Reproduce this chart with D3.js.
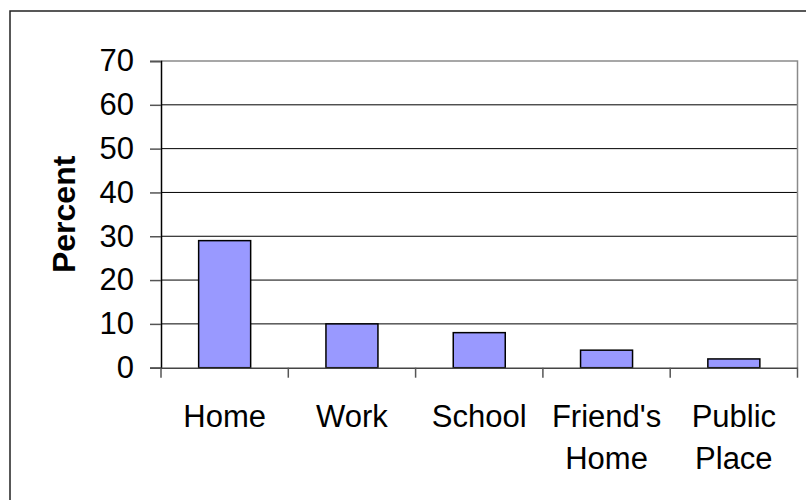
<!DOCTYPE html>
<html>
<head>
<meta charset="utf-8">
<script src="https://cdn.jsdelivr.net/npm/d3@7"></script>
<style>
  html, body { margin: 0; padding: 0; background: #fff; }
  svg { display: block; }
  text { font-family: "Liberation Sans", Arial, sans-serif; }
</style>
</head>
<body>
<svg id="chart" width="806" height="500"></svg>
<script>
const categories = [["Home"], ["Work"], ["School"], ["Friend's", "Home"], ["Public", "Place"]];
const values = [29, 10, 8, 4, 2];
const yTicks = [0, 10, 20, 30, 40, 50, 60, 70];
const yLabel = "Percent";

const svg = d3.select("#chart");
const W = 806, H = 500;
const plot = { left: 161, right: 797.5, top: 61, bottom: 367.7 };

// outer frame
svg.append("rect").attr("x", 10).attr("y", 11).attr("width", 810).attr("height", 520)
  .attr("fill", "none").attr("stroke", "#222").attr("stroke-width", 1.5);

const keys = categories.map(c => c.join(" "));
const x = d3.scaleBand().domain(keys).range([plot.left, plot.right]).paddingInner(0).paddingOuter(0);
const y = d3.scaleLinear().domain([0, 70]).range([plot.bottom, plot.top]);

// gridlines
svg.append("g").selectAll("line").data(yTicks.filter(t => t > 0 && t < 70)).join("line")
  .attr("x1", plot.left).attr("x2", plot.right)
  .attr("y1", d => y(d)).attr("y2", d => y(d))
  .attr("stroke", "#000").attr("stroke-width", 1);

// plot area border top/right
svg.append("path")
  .attr("d", `M${plot.left},${y(70)}H${plot.right}V${plot.bottom}`)
  .attr("fill", "none").attr("stroke", "#8a8a8a").attr("stroke-width", 1.5);

// bars
const barW = 52;
svg.append("g").selectAll("rect").data(values).join("rect")
  .attr("x", (d, i) => x(keys[i]) + (x.bandwidth() - barW) / 2)
  .attr("width", barW)
  .attr("y", d => y(d))
  .attr("height", d => y(0) - y(d))
  .attr("fill", "#9999FF").attr("stroke", "#000").attr("stroke-width", 1.5);

// y axis
const yAxis = d3.axisLeft(y).tickValues(yTicks).tickSize(11).tickPadding(16).tickFormat(d3.format("d"));
const gy = svg.append("g").attr("transform", `translate(${plot.left},0)`).call(yAxis);
gy.select(".domain").attr("stroke", "#000").attr("stroke-width", 1.5);
gy.selectAll(".tick line").attr("stroke", "#555").attr("stroke-width", 1.5);
gy.selectAll(".tick text").attr("font-size", 31).attr("fill", "#000")
  .attr("font-family", "'Liberation Sans', Arial, sans-serif");

// x axis
const xAxis = d3.axisBottom(x).tickSize(0).tickFormat("");
const gx = svg.append("g").attr("transform", `translate(0,${plot.bottom})`).call(xAxis);
gx.select(".domain").attr("stroke", "#444").attr("stroke-width", 1.5);
// boundary ticks between categories
const bounds = keys.map(k => x(k)).concat([plot.right]);
svg.append("g").selectAll("line").data(bounds).join("line")
  .attr("x1", d => d).attr("x2", d => d)
  .attr("y1", plot.bottom).attr("y2", plot.bottom + 10)
  .attr("stroke", "#555").attr("stroke-width", 1.5);

// x labels
const lbl = svg.append("g").selectAll("text").data(categories).join("text")
  .attr("x", (d, i) => x(keys[i]) + x.bandwidth() / 2)
  .attr("y", 426.7)
  .attr("text-anchor", "middle").attr("font-size", 31).attr("fill", "#000");
lbl.each(function(d) {
  const t = d3.select(this);
  const cx = t.attr("x");
  d.forEach((line, j) => {
    t.append("tspan").attr("x", cx).attr("dy", j === 0 ? 0 : 42.6).text(line);
  });
});

// y label
svg.append("text")
  .attr("transform", `translate(75,${(plot.top + plot.bottom) / 2}) rotate(-90)`)
  .attr("text-anchor", "middle").attr("font-size", 32).attr("font-weight", "bold")
  .attr("fill", "#000").text(yLabel);
</script>
</body>
</html>
